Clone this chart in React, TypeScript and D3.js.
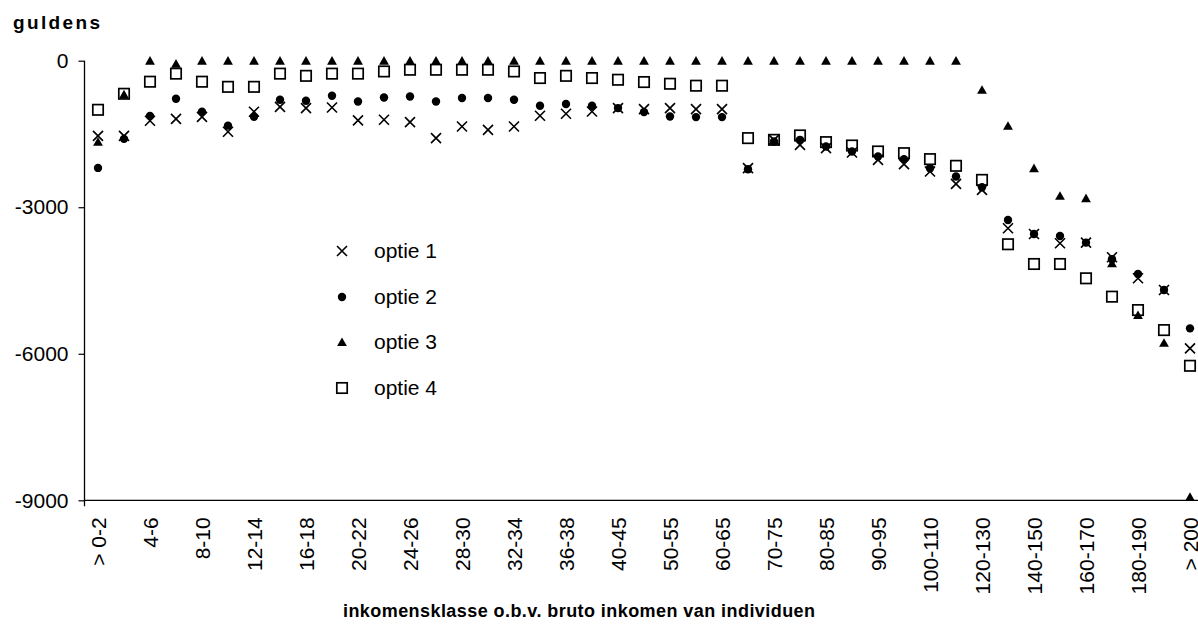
import React, { useEffect, useRef } from 'react';
import * as d3 from 'd3';

const categories = [
  '> 0-2', '2-4', '4-6', '6-8', '8-10', '10-12', '12-14', '14-16', '16-18', '18-20',
  '20-22', '22-24', '24-26', '26-28', '28-30', '30-32', '32-34', '34-36', '36-38', '38-40',
  '40-45', '45-50', '50-55', '55-60', '60-65', '65-70', '70-75', '75-80', '80-85', '85-90',
  '90-95', '95-100', '100-110', '110-120', '120-130', '130-140', '140-150', '150-160',
  '160-170', '170-180', '180-190', '190-200', '> 200',
];

const optie1 = [
  -1540, -1540, -1230, -1190, -1150, -1455, -1045, -945, -970, -957,
  -1223, -1210, -1257, -1585, -1346, -1415, -1346, -1128, -1087, -1039,
  -970, -991, -970, -991, -991, -2200, -1620, -1722, -1790, -1879,
  -2030, -2118, -2269, -2521, -2645, -3430, -3547, -3738, -3725, -4025,
  -4455, -4695, -5890,
];

const optie2 = [
  -2195, -1600, -1130, -780, -1045, -1330, -1150, -800, -820, -718,
  -834, -752, -732, -834, -765, -765, -800, -922, -888, -922,
  -970, -1052, -1141, -1155, -1155, -2221, -1654, -1620, -1756, -1858,
  -1961, -2015, -2200, -2371, -2590, -3260, -3547, -3588, -3725, -4066,
  -4367, -4695, -5480,
];

const optie3 = [
  -1660, -690, 0, -60, 0, 0, 0, 0, 0, 0,
  0, 0, 0, 0, 0, 0, 0, 0, 0, 0,
  0, 0, 0, 0, 0, 0, 0, 0, 0, 0,
  0, 0, 0, 0, -595, -1333, -2200, -2767, -2815, -4148,
  -5207, -5775, -8930,
];

const optie4 = [
  -1005, -677, -430, -265, -430, -535, -535, -265, -310, -265,
  -265, -220, -185, -185, -185, -185, -220, -355, -310, -355,
  -390, -437, -472, -512, -512, -1585, -1620, -1530, -1667, -1736,
  -1858, -1893, -2015, -2152, -2440, -3758, -4162, -4162, -4455, -4831,
  -5105, -5515, -6246,
];

const yTicks = [0, -3000, -6000, -9000];
const seriesNames = ['optie 1', 'optie 2', 'optie 3', 'optie 4'];

const W = 1198;
const H = 627;
const FONT = '"Liberation Sans", Arial, Helvetica, sans-serif';

type Sel = d3.Selection<SVGGElement, unknown, null, undefined>;

// marker drawers, centred on (cx, cy)
const drawMarker = (g: Sel, kind: number, cx: number, cy: number) => {
  if (kind === 0) {
    const s = 5;
    g.append('path')
      .attr('d', `M${cx - s},${cy - s}L${cx + s},${cy + s}M${cx - s},${cy + s}L${cx + s},${cy - s}`)
      .attr('stroke', '#000')
      .attr('stroke-width', 1.6)
      .attr('fill', 'none');
  } else if (kind === 1) {
    g.append('circle').attr('cx', cx).attr('cy', cy).attr('r', 4.2).attr('fill', '#000');
  } else if (kind === 2) {
    g.append('path')
      .attr('d', `M${cx},${cy - 4.6}L${cx + 4.9},${cy + 4}L${cx - 4.9},${cy + 4}Z`)
      .attr('fill', '#000');
  } else {
    g.append('rect')
      .attr('x', cx - 5.2).attr('y', cy - 5.2)
      .attr('width', 10.4).attr('height', 10.4)
      .attr('fill', 'none')
      .attr('stroke', '#000')
      .attr('stroke-width', 1.7);
  }
};

const App: React.FC = () => {
  const svgRef = useRef<SVGSVGElement>(null);

  useEffect(() => {
    if (!svgRef.current) return;
    const svg = d3.select(svgRef.current);
    svg.selectAll('*').remove();

    const left = 84.5;
    const bottom = 500.3;

    const x = d3.scalePoint<string>()
      .domain(categories)
      .range([85, 1203])
      .padding(0.5);

    const y = d3.scaleLinear()
      .domain([-9000, 0])
      .range([bottom, 60.7]);

    const root = svg.append('g') as unknown as Sel;

    // y axis
    const yAxis = root.append('g')
      .attr('transform', `translate(${left},0)`)
      .call(d3.axisLeft(y).tickValues(yTicks).tickSize(6).tickPadding(10).tickFormat(d => `${d}`));
    yAxis.select('.domain').remove();
    yAxis.selectAll('.tick line').attr('stroke', '#000').attr('stroke-width', 1.2);
    yAxis.selectAll('.tick text')
      .attr('fill', '#000')
      .style('font-family', FONT)
      .style('font-size', '21px');

    root.append('line')
      .attr('x1', left).attr('x2', left)
      .attr('y1', y(0)).attr('y2', bottom + 6)
      .attr('stroke', '#000').attr('stroke-width', 1.3);

    // x axis
    const xAxis = root.append('g')
      .attr('transform', `translate(0,${bottom})`)
      .call(d3.axisBottom(x).tickValues(categories.filter((_, i) => i % 2 === 0)).tickSize(0));
    xAxis.select('.domain').remove();
    xAxis.selectAll('.tick text')
      .attr('fill', '#000')
      .attr('transform', 'rotate(-90)')
      .attr('text-anchor', 'end')
      .attr('x', -17)
      .attr('y', 0)
      .attr('dy', '0.35em')
      .style('font-family', FONT)
      .style('font-size', '21px');

    root.append('line')
      .attr('x1', left).attr('x2', W)
      .attr('y1', bottom).attr('y2', bottom)
      .attr('stroke', '#000').attr('stroke-width', 1.3);

    // points
    const series = [optie1, optie2, optie3, optie4];
    const pts = root.append('g') as unknown as Sel;
    series.forEach((vals, k) => {
      vals.forEach((v, i) => {
        drawMarker(pts, k, x(categories[i]) || 0, y(v));
      });
    });

    // legend
    const legend = root.append('g') as unknown as Sel;
    const legendY = [251, 297, 342, 388];
    seriesNames.forEach((name, k) => {
      drawMarker(legend, k, 342, legendY[k]);
      legend.append('text')
        .attr('x', 374)
        .attr('y', legendY[k])
        .attr('dy', '0.35em')
        .style('font-family', FONT)
        .style('font-size', '21px')
        .text(name);
    });

    // titles
    root.append('text')
      .attr('x', 13)
      .attr('y', 29)
      .attr('textLength', 87)
      .attr('lengthAdjust', 'spacing')
      .style('font-family', FONT)
      .style('font-size', '19px')
      .style('font-weight', 'bold')
      .text('guldens');

    root.append('text')
      .attr('x', 343)
      .attr('y', 617)
      .attr('textLength', 472)
      .attr('lengthAdjust', 'spacing')
      .style('font-family', FONT)
      .style('font-size', '18px')
      .style('font-weight', 'bold')
      .text('inkomensklasse o.b.v. bruto inkomen van individuen');
  }, []);

  return (
    <svg
      ref={svgRef}
      width={W}
      height={H}
      style={{ position: 'absolute', left: 0, top: 0, background: '#fff' }}
    />
  );
};

export default App;
